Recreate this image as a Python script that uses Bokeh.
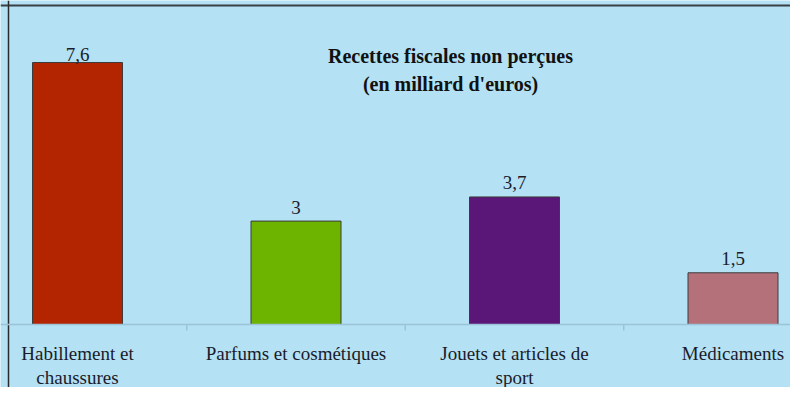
from bokeh.plotting import figure
from bokeh.models import ColumnDataSource, Range1d, Label, Span
from bokeh.embed import file_html
from bokeh.resources import INLINE
from bokeh.core.properties import value

# ---- data ----
categories = ["Habillement et\nchaussures", "Parfums et cosmétiques",
              "Jouets et articles de\nsport", "Médicaments"]
values = [7.6, 3.0, 3.7, 1.5]
value_labels = ["7,6", "3", "3,7", "1,5"]
colors = ["#b32500", "#6cb400", "#5a1778", "#b5717a"]
title_lines = ["Recettes fiscales non perçues", "(en milliard d'euros)"]

BG = "#b4e1f4"
FONT = "Liberation Serif"
TXT = "#1b1b2a"
AXIS_C = "#9cc4d8"

W, H = 790, 387
PX_X = 218.5          # pixels per category
BASE = 324            # baseline, px from top
PX_Y = (BASE - 62) / 7.6   # pixels per milliard
FIRST = 77            # px of first category centre
X0 = -FIRST / PX_X    # data x at left edge

xs = list(range(len(categories)))
label_y = [min(v + 14 / PX_Y, (BASE - 54) / PX_Y) for v in values]

src = ColumnDataSource(dict(x=xs, top=values, color=colors,
                            lbl=value_labels, ly=label_y))
cat_src = ColumnDataSource(dict(x=xs, cat=categories))
bounds = [i + 0.5 for i in xs[:-1]]
tick_src = ColumnDataSource(dict(x=bounds, y0=[0] * len(bounds),
                                 y1=[-6 / PX_Y] * len(bounds)))

p = figure(width=W, height=H,
           x_range=Range1d(X0, X0 + W / PX_X),
           y_range=Range1d(-(H - BASE) / PX_Y, BASE / PX_Y),
           output_backend="svg", toolbar_location=None,
           min_border=0, min_border_left=0, min_border_right=0,
           min_border_top=0, min_border_bottom=0)
p.background_fill_color = BG
p.border_fill_color = BG
p.outline_line_color = None
p.grid.visible = False
p.axis.visible = False

# chart border (top and left)
p.add_layout(Span(location=(BASE - 5) / PX_Y, dimension="width",
                  line_color="#3a3f44", line_width=2))
p.add_layout(Span(location=X0 + 8 / PX_X, dimension="height",
                  line_color="#2a2a2a", line_width=1.5))

# category axis baseline and separators
p.add_layout(Span(location=0, dimension="width", line_color=AXIS_C,
                  line_width=1.5))
p.segment(x0="x", y0="y0", x1="x", y1="y1", source=tick_src,
          line_color=AXIS_C, line_width=1.5)

p.vbar(x="x", top="top", width=90 / PX_X, bottom=0, fill_color="color",
       line_color="#3c3c3c", line_width=1, source=src)

p.text(x="x", y="ly", text="lbl", source=src, text_align="center",
       text_baseline="alphabetic", text_font=value(FONT),
       text_font_size="19px", text_color=TXT)

p.text(x="x", y=-(342 - BASE) / PX_Y, text="cat", source=cat_src,
       text_align="center", text_baseline="top", text_font=value(FONT),
       text_font_size="19px", text_color=TXT, text_line_height=1.15)

for line, py in zip(title_lines, [55, 83]):
    p.add_layout(Label(x=(450 - FIRST) / PX_X, y=(BASE - py) / PX_Y, text=line,
                       text_align="center", text_baseline="middle",
                       text_font=FONT, text_font_size="20px",
                       text_font_style="bold", text_color="#111111"))

open("out.html", "w").write(file_html(p, INLINE))
